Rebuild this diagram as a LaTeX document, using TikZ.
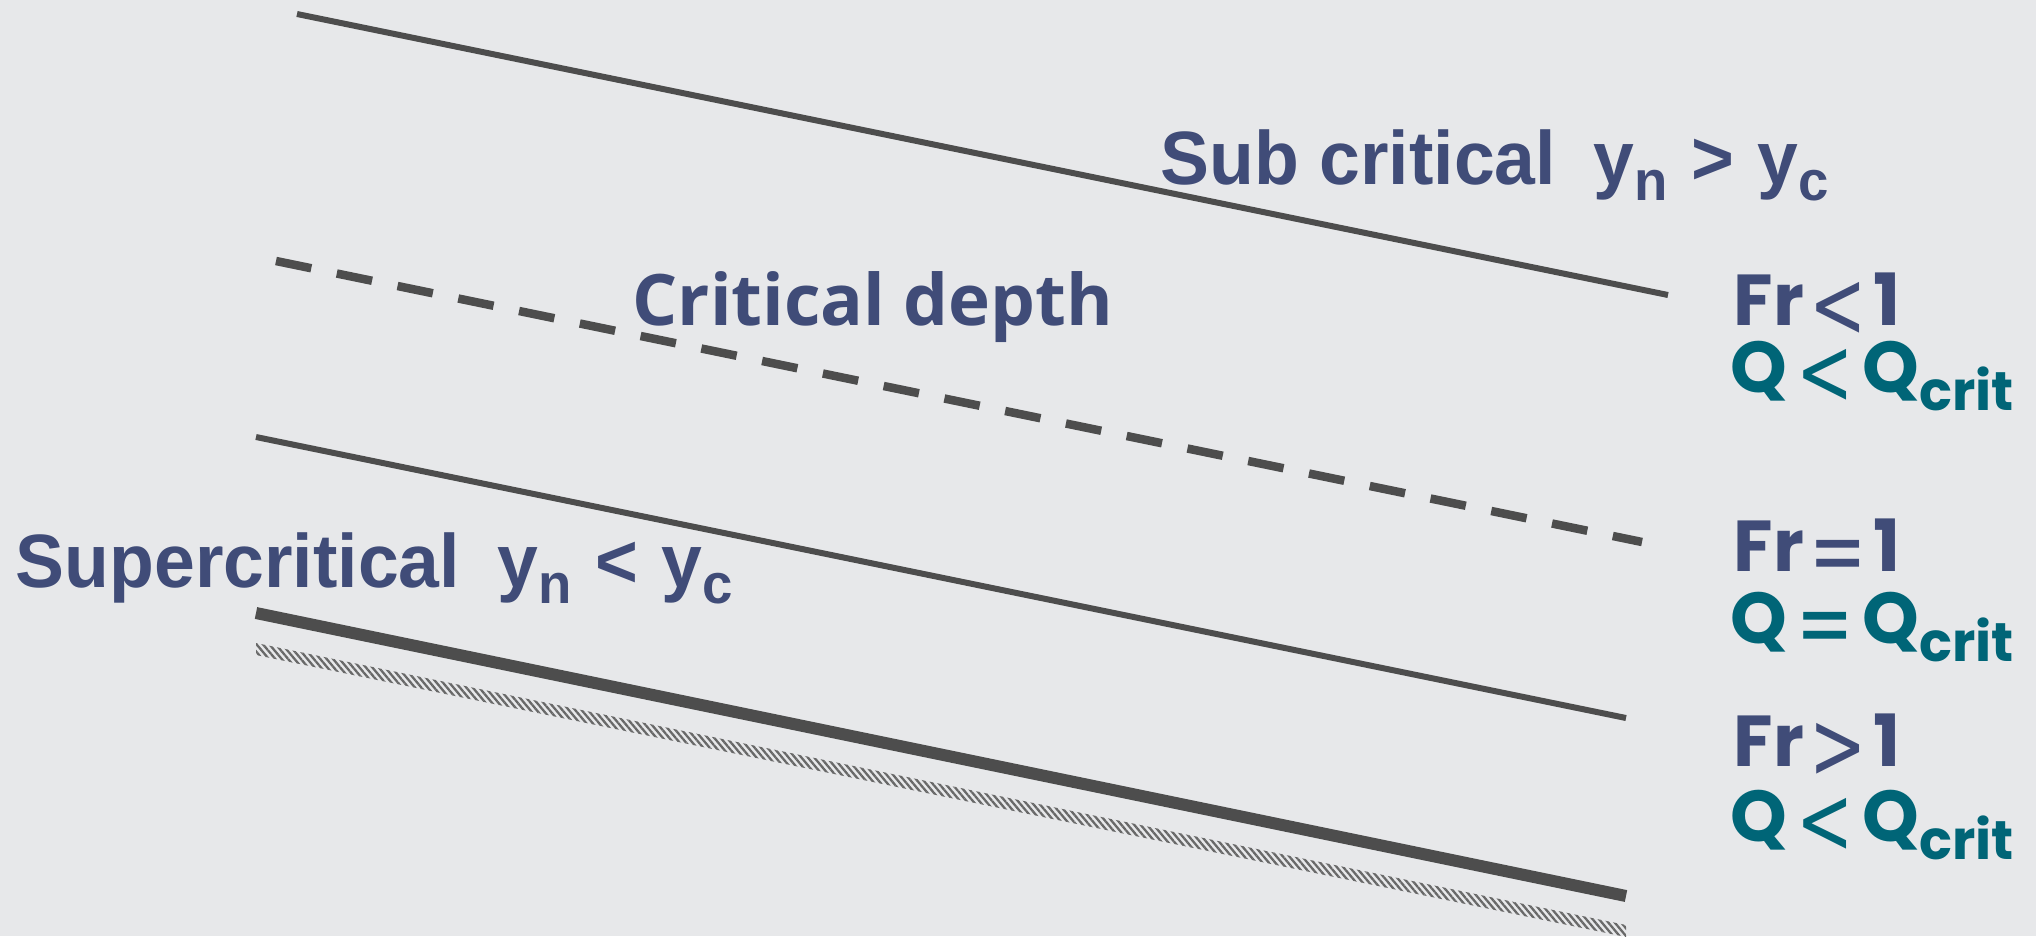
\documentclass[tikz,border=0pt]{standalone}
\usepackage{fontspec}
\usepackage{graphicx}
\setmainfont{Open Sans}
\newfontfamily\narrowf[FakeStretch=0.97]{Liberation Sans}
\newfontfamily\popf{Poppins}
\newfontfamily\relf{DejaVu Sans}
\usetikzlibrary{patterns.meta,calc}
\definecolor{bgc}{HTML}{E7E8EA}
\definecolor{navy}{HTML}{404C78}
\definecolor{teal}{HTML}{006577}
\definecolor{linec}{HTML}{4D4D4D}
\tikzset{
  wline/.style={draw=linec, line width=0.06cm},
  dline/.style={draw=linec, line width=0.085cm, dash pattern=on 0.36cm off 0.26cm},
  bedline/.style={draw=linec, line width=0.12cm},
  lbl/.style={inner sep=0pt, anchor=base west, text=navy},
  qlbl/.style={inner sep=0pt, anchor=base west, text=teal},
}
\newcommand{\bigtxt}{\fontsize{21.5}{24}\selectfont\bfseries}
\newcommand{\subtxt}[1]{\raisebox{-0.22em}{\fontsize{16}{17}\selectfont #1}}
\newcommand{\frtxt}{\popf\fontsize{20.5}{24}\selectfont\bfseries}
\newcommand{\qsub}[1]{\raisebox{-0.25em}{\fontsize{15.5}{17}\selectfont #1}}
\newcommand{\rel}[1]{\hspace{-2.5pt}\smash{\raisebox{-3.5pt}{\scalebox{0.72}[1]{\relf\mdseries\fontsize{27}{30}\selectfont #1}}}\hspace{-2.5pt}}
\begin{document}
\begin{tikzpicture}[x=0.01cm, y=-0.01cm]
\fill[bgc] (0,0) rectangle (2036,936);
\useasboundingbox (0,0) rectangle (2036,936);
% lines
\coordinate (a1) at (297,14);
\coordinate (a2) at (1668,295);
\coordinate (b1) at (276,261);
\coordinate (b2) at (1642,542);
\coordinate (c1) at (256,437);
\coordinate (c2) at (1626,718);
\coordinate (d1) at (256,613);
\coordinate (d2) at (1626,896);
\coordinate (e1) at (256,649);
\coordinate (e2) at (1626,931);
\draw[wline] (a1) -- (a2);
\draw[dline] (b1) -- (b2);
\draw[wline] (c1) -- (c2);
\draw[bedline] (d1) -- (d2);
\fill[pattern={Lines[angle=-50, distance=1.4pt, line width=0.65pt]}, pattern color=linec!85]
  ($(e1)+(0,-6)$) -- ($(e2)+(0,-6)$) -- ($(e2)+(0,6)$) -- ($(e1)+(0,6)$) -- cycle;
% labels
\node[lbl] (sub) at (1160,184) {\narrowf\bigtxt Sub critical\hspace{0.5em}y\subtxt{n}\hspace{0.31em}>\hspace{0.31em}y\subtxt{c}};
\node[lbl] (sup) at (15,587) {\narrowf\bigtxt Supercritical\hspace{0.5em}y\subtxt{n}\hspace{0.31em}<\hspace{0.31em}y\subtxt{c}};
\node[lbl] (crit) at (632,325) {\fontsize{20.2}{24}\selectfont\bfseries Critical depth};
\node[lbl] (fr1) at (1733,325) {\frtxt Fr\hspace{4pt}\rel{<}\hspace{4.5pt}1};
\node[qlbl] (q1) at (1730,392) {\frtxt Q\hspace{5pt}\rel{<}\hspace{5pt}Q\qsub{crit}};
\node[lbl] (fr2) at (1733,571) {\frtxt Fr\hspace{4pt}\rel{=}\hspace{4.5pt}1};
\node[qlbl] (q2) at (1730,643) {\frtxt Q\hspace{5pt}\rel{=}\hspace{5pt}Q\qsub{crit}};
\node[lbl] (fr3) at (1733,766) {\frtxt Fr\hspace{4pt}\rel{>}\hspace{4.5pt}1};
\node[qlbl] (q3) at (1730,841) {\frtxt Q\hspace{5pt}\rel{<}\hspace{5pt}Q\qsub{crit}};
\end{tikzpicture}
\end{document}
